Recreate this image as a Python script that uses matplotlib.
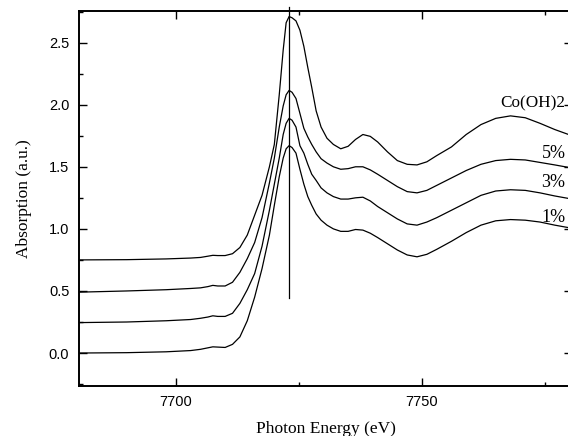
import matplotlib
matplotlib.use("Agg")
import matplotlib.pyplot as plt
from matplotlib.ticker import MultipleLocator

energy = [7680, 7690, 7698, 7703, 7705, 7706.5, 7707.5, 7708.5, 7710, 7711.5,
          7713, 7714.5, 7716, 7717.5, 7719, 7720, 7721, 7721.8, 7722.4, 7723,
          7723.6, 7724.4, 7725.2, 7726, 7726.8, 7727.6, 7728.5, 7729.5, 7730.7,
          7732, 7733.5, 7735, 7736.5, 7738, 7739.5, 7741, 7743, 7745, 7747,
          7749, 7751, 7753, 7756, 7759, 7762, 7765, 7768, 7771, 7774, 7777,
          7780.5]

co_oh2 = [0.75, 0.752, 0.758, 0.765, 0.77, 0.78, 0.787, 0.785, 0.785, 0.80,
          0.85, 0.95, 1.11, 1.27, 1.50, 1.68, 2.08, 2.44, 2.66, 2.71,
          2.70, 2.675, 2.60, 2.47, 2.30, 2.14, 1.95, 1.82, 1.73,
          1.68, 1.645, 1.665, 1.72, 1.76, 1.745, 1.70, 1.62, 1.55, 1.52,
          1.515, 1.54, 1.59, 1.66, 1.76, 1.84, 1.89, 1.91, 1.895, 1.85, 1.80,
          1.75]

pct5 = [0.49, 0.50, 0.51, 0.52, 0.525, 0.535, 0.545, 0.54, 0.54, 0.57,
        0.65, 0.76, 0.89, 1.09, 1.37, 1.57, 1.82, 1.99, 2.08, 2.115,
        2.10, 2.05, 1.93, 1.81, 1.74, 1.68, 1.62, 1.565, 1.53,
        1.50, 1.48, 1.485, 1.50, 1.50, 1.475, 1.44, 1.39, 1.34, 1.30,
        1.29, 1.31, 1.35, 1.41, 1.47, 1.52, 1.55, 1.56, 1.555, 1.535, 1.515,
        1.49]

pct3 = [0.245, 0.25, 0.26, 0.27, 0.28, 0.29, 0.30, 0.295, 0.295, 0.32,
        0.40, 0.51, 0.64, 0.86, 1.15, 1.36, 1.57, 1.76, 1.85, 1.89,
        1.875, 1.82, 1.67, 1.61, 1.52, 1.44, 1.39, 1.33, 1.29,
        1.26, 1.24, 1.24, 1.25, 1.255, 1.225, 1.18, 1.13, 1.08, 1.04,
        1.03, 1.055, 1.09, 1.15, 1.21, 1.27, 1.305, 1.315, 1.31, 1.29, 1.265,
        1.24]

pct1 = [0.0, 0.003, 0.01, 0.02, 0.03, 0.042, 0.05, 0.048, 0.045, 0.07,
        0.13, 0.26, 0.45, 0.68, 0.95, 1.19, 1.42, 1.57, 1.645, 1.67,
        1.655, 1.61, 1.48, 1.36, 1.26, 1.19, 1.12, 1.07, 1.03,
        1.00, 0.98, 0.98, 0.995, 0.99, 0.965, 0.93, 0.88, 0.83, 0.79,
        0.775, 0.795, 0.835, 0.90, 0.97, 1.03, 1.065, 1.075, 1.07, 1.055, 1.03,
        1.005]

labels = ["Co(OH)2", "5%", "3%", "1%"]
label_x = [7766.0, 7774.3, 7774.3, 7774.3]
label_y = [2.01, 1.61, 1.37, 1.095]

edge_energy = 7723.0
edge_line_y = [0.44, 2.79]

serif = ["Liberation Serif", "DejaVu Serif"]
sans = ["Liberation Sans", "DejaVu Sans"]

fig = plt.figure(figsize=(5.68, 4.36), dpi=100)
ax = fig.add_axes([79 / 568, (436 - 385.7) / 436, (572 - 79) / 568, 375 / 436])

for series in [co_oh2, pct5, pct3, pct1]:
    ax.plot(energy, series, color="black", lw=0.9, solid_joinstyle="round")

ax.plot([edge_energy, edge_energy], edge_line_y, color="black", lw=0.9, clip_on=False)

for lab, lx, ly, fs in zip(labels, label_x, label_y, [12.3, 13, 13, 13]):
    ax.text(lx, ly, lab, family=serif, fontsize=fs, ha="left", va="center",
            clip_on=False)

ax.set_xlim(7680.3, 7780.5)
ax.set_ylim(-0.263, 2.757)

ax.xaxis.set_major_locator(MultipleLocator(50))
ax.xaxis.set_minor_locator(MultipleLocator(25))
ax.yaxis.set_major_locator(MultipleLocator(0.5))
ax.yaxis.set_minor_locator(MultipleLocator(0.25))
ax.set_yticks([0.0, 0.5, 1.0, 1.5, 2.0, 2.5])
ax.set_yticklabels(["0.0", "0.5", "1.0", "1.5", "2.0", "2.5"])

ax.tick_params(which="both", direction="in", top=True, right=True, width=1.0)
ax.tick_params(which="major", length=6, pad=7, labelsize=10.5)
ax.tick_params(which="minor", length=3)
for lab in ax.get_xticklabels() + ax.get_yticklabels():
    lab.set_family(sans)

for sp in ax.spines.values():
    sp.set_linewidth(1.4)

ax.set_xlabel("Photon Energy (eV)", family=serif, fontsize=12.5, labelpad=8)
ax.set_ylabel("Absorption (a.u.)", family=serif, fontsize=12.5, labelpad=12)

fig.savefig("out.png", dpi=100)
